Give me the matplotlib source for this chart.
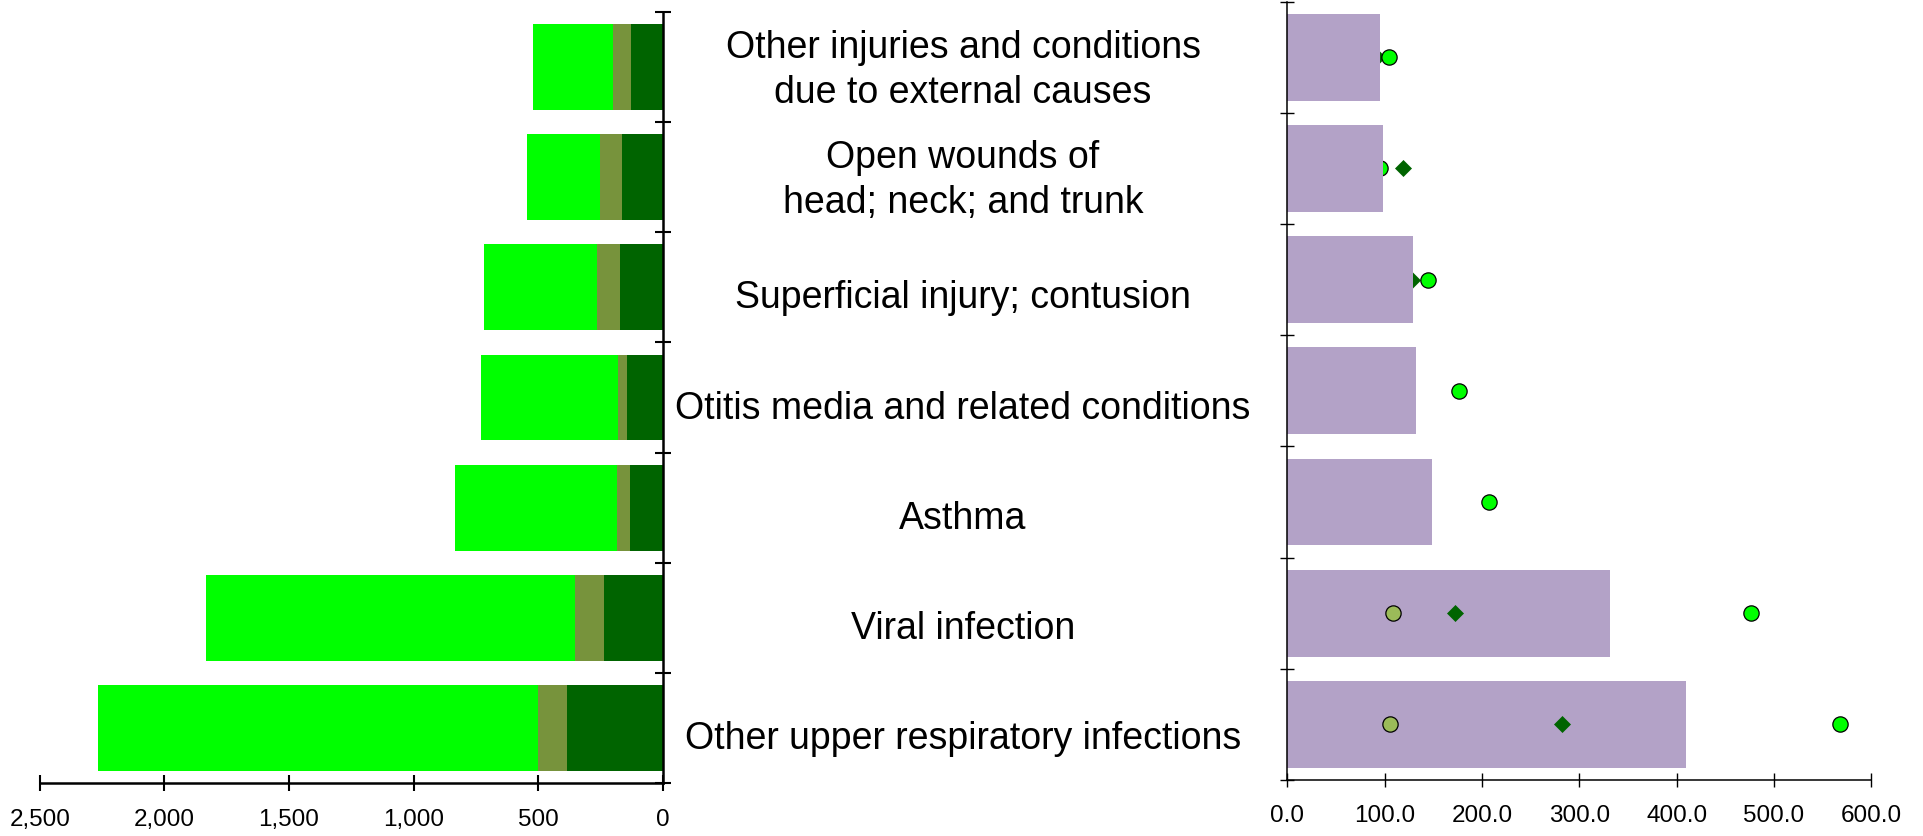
import numpy as np
import matplotlib
matplotlib.use('Agg')
import matplotlib.pyplot as plt
from matplotlib.ticker import StrMethodFormatter, FixedLocator
from matplotlib.transforms import blended_transform_factory

plt.rcParams['font.family'] = ['Liberation Sans', 'DejaVu Sans']

# categories listed top to bottom
categories = [
    'Other injuries and conditions\ndue to external causes',
    'Open wounds of\nhead; neck; and trunk',
    'Superficial injury; contusion',
    'Otitis media and related conditions',
    'Asthma',
    'Viral infection',
    'Other upper respiratory infections',
]

# left panel: stacked counts (drawn from zero outward)
count_dark = [125, 164, 172, 141, 131, 235, 385]
count_olive = [73, 87, 93, 37, 52, 115, 116]
count_light = [324, 294, 452, 553, 649, 1485, 1766]

# right panel: overall rate (bar) and group rates (markers)
rate_total = [94.7, 98.6, 129.5, 131.6, 149.0, 331.0, 409.6]
rate_light = [104.7, 94.7, 144.2, 176.4, 207.2, 476.6, 568.0]
rate_diamond = [92.0, 119.0, 127.5, np.nan, np.nan, 172.0, 282.0]
rate_olive = [np.nan, np.nan, np.nan, np.nan, np.nan, 108.6, 105.0]

LIGHT = '#00ff00'
OLIVE = '#77933c'
DARK = '#006400'
PURPLE = '#b3a2c7'
OLIVE_PT = '#9bbb59'

y = np.arange(len(categories))
bh = 0.78

fig = plt.figure(figsize=(19.23, 8.36), dpi=100)
axl = fig.add_axes([0.02075, 0.0634, 0.3238, 0.9222])
axr = fig.add_axes([0.6695, 0.0670, 0.3036, 0.9310])

# ---- left: stacked bars growing leftward
dark = np.array(count_dark)
olive = np.array(count_olive)
light = np.array(count_light)
axl.barh(y, dark, height=bh, color=DARK, zorder=2)
axl.barh(y, olive, left=dark, height=bh, color=OLIVE, zorder=2)
axl.barh(y, light, left=dark + olive, height=bh, color=LIGHT, zorder=2)
axl.set_xlim(2500, 0)
axl.set_ylim(len(categories) - 0.5, -0.5)
axl.set_xticks(np.arange(0, 2501, 500))
axl.xaxis.set_major_formatter(StrMethodFormatter('{x:,.0f}'))
axl.yaxis.set_major_locator(FixedLocator(np.arange(-0.5, len(categories), 1.0)))
axl.yaxis.tick_right()
axl.set_yticklabels([])
for s in ['top', 'left']:
    axl.spines[s].set_visible(False)
for s in ['right', 'bottom']:
    axl.spines[s].set_linewidth(1.8)
axl.tick_params(axis='both', direction='inout', length=11, width=1.5,
                labelsize=17.5, pad=13)

# ---- right: rate bars with group markers
front = [False, False, False, False, False, True, True]
axr.barh(y, rate_total, height=bh, color=PURPLE, zorder=2)
for i in range(len(categories)):
    z = 4 if front[i] else 1
    axr.plot(rate_olive[i], y[i], 'o', ms=11, mfc=OLIVE_PT, mec='black',
             mew=0.9, zorder=z)
    axr.plot(rate_diamond[i], y[i], 'D', ms=8.5, mfc=DARK, mec=DARK,
             mew=0.5, zorder=z)
    axr.plot(rate_light[i], y[i], 'o', ms=11, mfc=LIGHT, mec='black',
             mew=0.9, zorder=z + 0.5)
axr.set_xlim(0, 600)
axr.set_ylim(len(categories) - 0.5, -0.5)
axr.set_xticks(np.arange(0, 601, 100))
axr.xaxis.set_major_formatter(StrMethodFormatter('{x:.1f}'))
axr.yaxis.set_major_locator(FixedLocator(np.arange(-0.5, len(categories), 1.0)))
axr.set_yticklabels([])
for s in ['top', 'right']:
    axr.spines[s].set_visible(False)
for s in ['left', 'bottom']:
    axr.spines[s].set_linewidth(1.1)
axr.tick_params(axis='both', direction='inout', length=10, width=1.0,
                labelsize=17.5, pad=13)

# category names between the two panels
tr = blended_transform_factory(fig.transFigure, axl.transData)
for i, name in enumerate(categories):
    dy = 0.03 if '\n' in name else 0.1
    fig.text(0.5008, y[i] + dy, name, transform=tr, ha='center',
             va='center', fontsize=27, linespacing=1.3)

fig.savefig('out.png', dpi=100)
